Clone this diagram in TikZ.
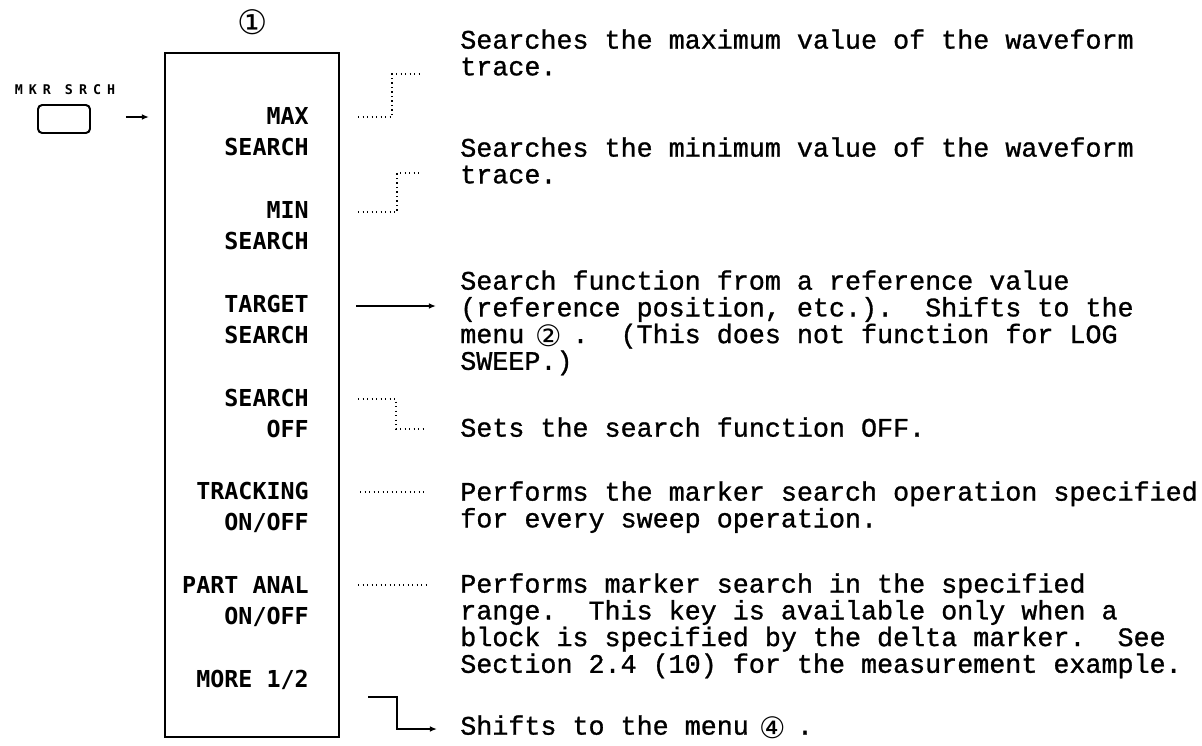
\documentclass[tikz,border=0pt]{standalone}
\usepackage{fontspec}
\setmonofont[FakeBold=1]{Liberation Mono}
\newfontfamily\menufont{DejaVu Sans Mono}
\newfontfamily\keyfont[LetterSpace=45]{DejaVu Sans Mono}
\newfontfamily\circfont{DejaVu Sans}
\usepackage{tikz}
\usetikzlibrary{arrows.meta, positioning, calc}
\newcommand{\circnum}[1]{\makebox[0.6em]{\raisebox{-2.5pt}{\smash{\circfont\fontsize{21}{21}\selectfont #1}}}}
\tikzset{
  menubox/.style={rectangle, draw, line width=1.3pt, minimum width=4.35cm,
                  minimum height=17.1cm, inner sep=0pt},
  keycap/.style={rectangle, draw, line width=1.4pt, rounded corners=3pt,
                 minimum width=1.3cm, minimum height=0.7cm},
  keylbl/.style={font=\keyfont\bfseries\fontsize{9.5}{10}\selectfont, inner sep=0pt},
  menulbl/.style={font=\menufont\bfseries\fontsize{16.6}{22}\selectfont,
                  align=right, inner sep=0pt, anchor=east},
  desc/.style={font=\ttfamily\fontsize{19}{19}\selectfont, align=left,
               inner sep=0pt, anchor=north west},
  leader/.style={line width=1.1pt, dash pattern=on 1pt off 2.2pt},
  tiparrow/.style={-{Latex[length=5pt,width=4pt]}, line width=1.1pt}
}
\begin{document}\frenchspacing
\begin{tikzpicture}[x=0.025cm, y=-0.025cm]
  \useasboundingbox (0,0) rectangle (1202,745);

  % Key and menu frame
  \node[keylbl] (mkrlbl) at (65,90) {MKR SRCH};
  \node[keycap] (mkr) at (64,119) {};
  \node[menubox] (menu) at (252,395) {};
  \node[font=\circfont\fontsize{24}{24}\selectfont] (num1) at (253,22) {①};
  \draw[tiparrow] ([shift={(35,-2)}]mkr.east) -- ++(23,0);

  % Soft keys
  \node[menulbl] (max)   at (309,131.5) {MAX\\SEARCH};
  \node[menulbl] (min)   at (309,225.5) {MIN\\SEARCH};
  \node[menulbl] (tgt)   at (309,319.5) {TARGET\\SEARCH};
  \node[menulbl] (off)   at (309,413.5) {SEARCH\\OFF};
  \node[menulbl] (trk)   at (309,507.5) {TRACKING\\ON/OFF};
  \node[menulbl] (part)  at (309,601.5) {PART ANAL\\ON/OFF};
  \node[menulbl] (more)  at (309,680)   {MORE 1/2};

  % Descriptions
  \node[desc] (dmax) at (460,29)
    {Searches the maximum value of the waveform\\trace.};
  \node[desc] (dmin) at (460,137)
    {Searches the minimum value of the waveform\\trace.};
  \node[desc] (dtgt) at (460,270)
    {Search function from a reference value\\
     (reference position, etc.).\ \ Shifts to the\\
     menu \circnum{②} .\ \ (This does not function for LOG\\
     SWEEP.)};
  \node[desc] (doff) at (460,417) {Sets the search function OFF.};
  \node[desc] (dtrk) at (460,481)
    {Performs the marker search operation specified\\
     for every sweep operation.};
  \node[desc] (dpart) at (460,573)
    {Performs marker search in the specified\\
     range.\ \ This key is available only when a\\
     block is specified by the delta marker.\ \ See\\
     Section 2.4 (10) for the measurement example.};
  \node[desc] (dmore) at (460,715) {Shifts to the menu \circnum{④} .};

  % Leaders
  \coordinate (maxA) at (358,117);
  \coordinate (minA) at (358,212);
  \coordinate (tgtA) at (356,306);
  \coordinate (offA) at (358,399);
  \coordinate (trkA) at (360,492);
  \coordinate (partA) at (358,585);
  \coordinate (moreA) at (368,697);
  \draw[leader] (maxA) -- ++(34,0) -- ++(0,-43) -- ++(30,0);
  \draw[leader] (minA) -- ++(39,0) -- ++(0,-39) -- ++(25,0);
  \draw[tiparrow] (tgtA) -- ++(80,0);
  \draw[leader] (offA) -- ++(38,0) -- ++(0,30) -- ++(30,0);
  \draw[leader] (trkA) -- ++(66,0);
  \draw[leader] (partA) -- ++(68,0);
  \draw[tiparrow] (moreA) -- ++(29,0) -- ++(0,32) -- ++(40,0);
\end{tikzpicture}
\end{document}
